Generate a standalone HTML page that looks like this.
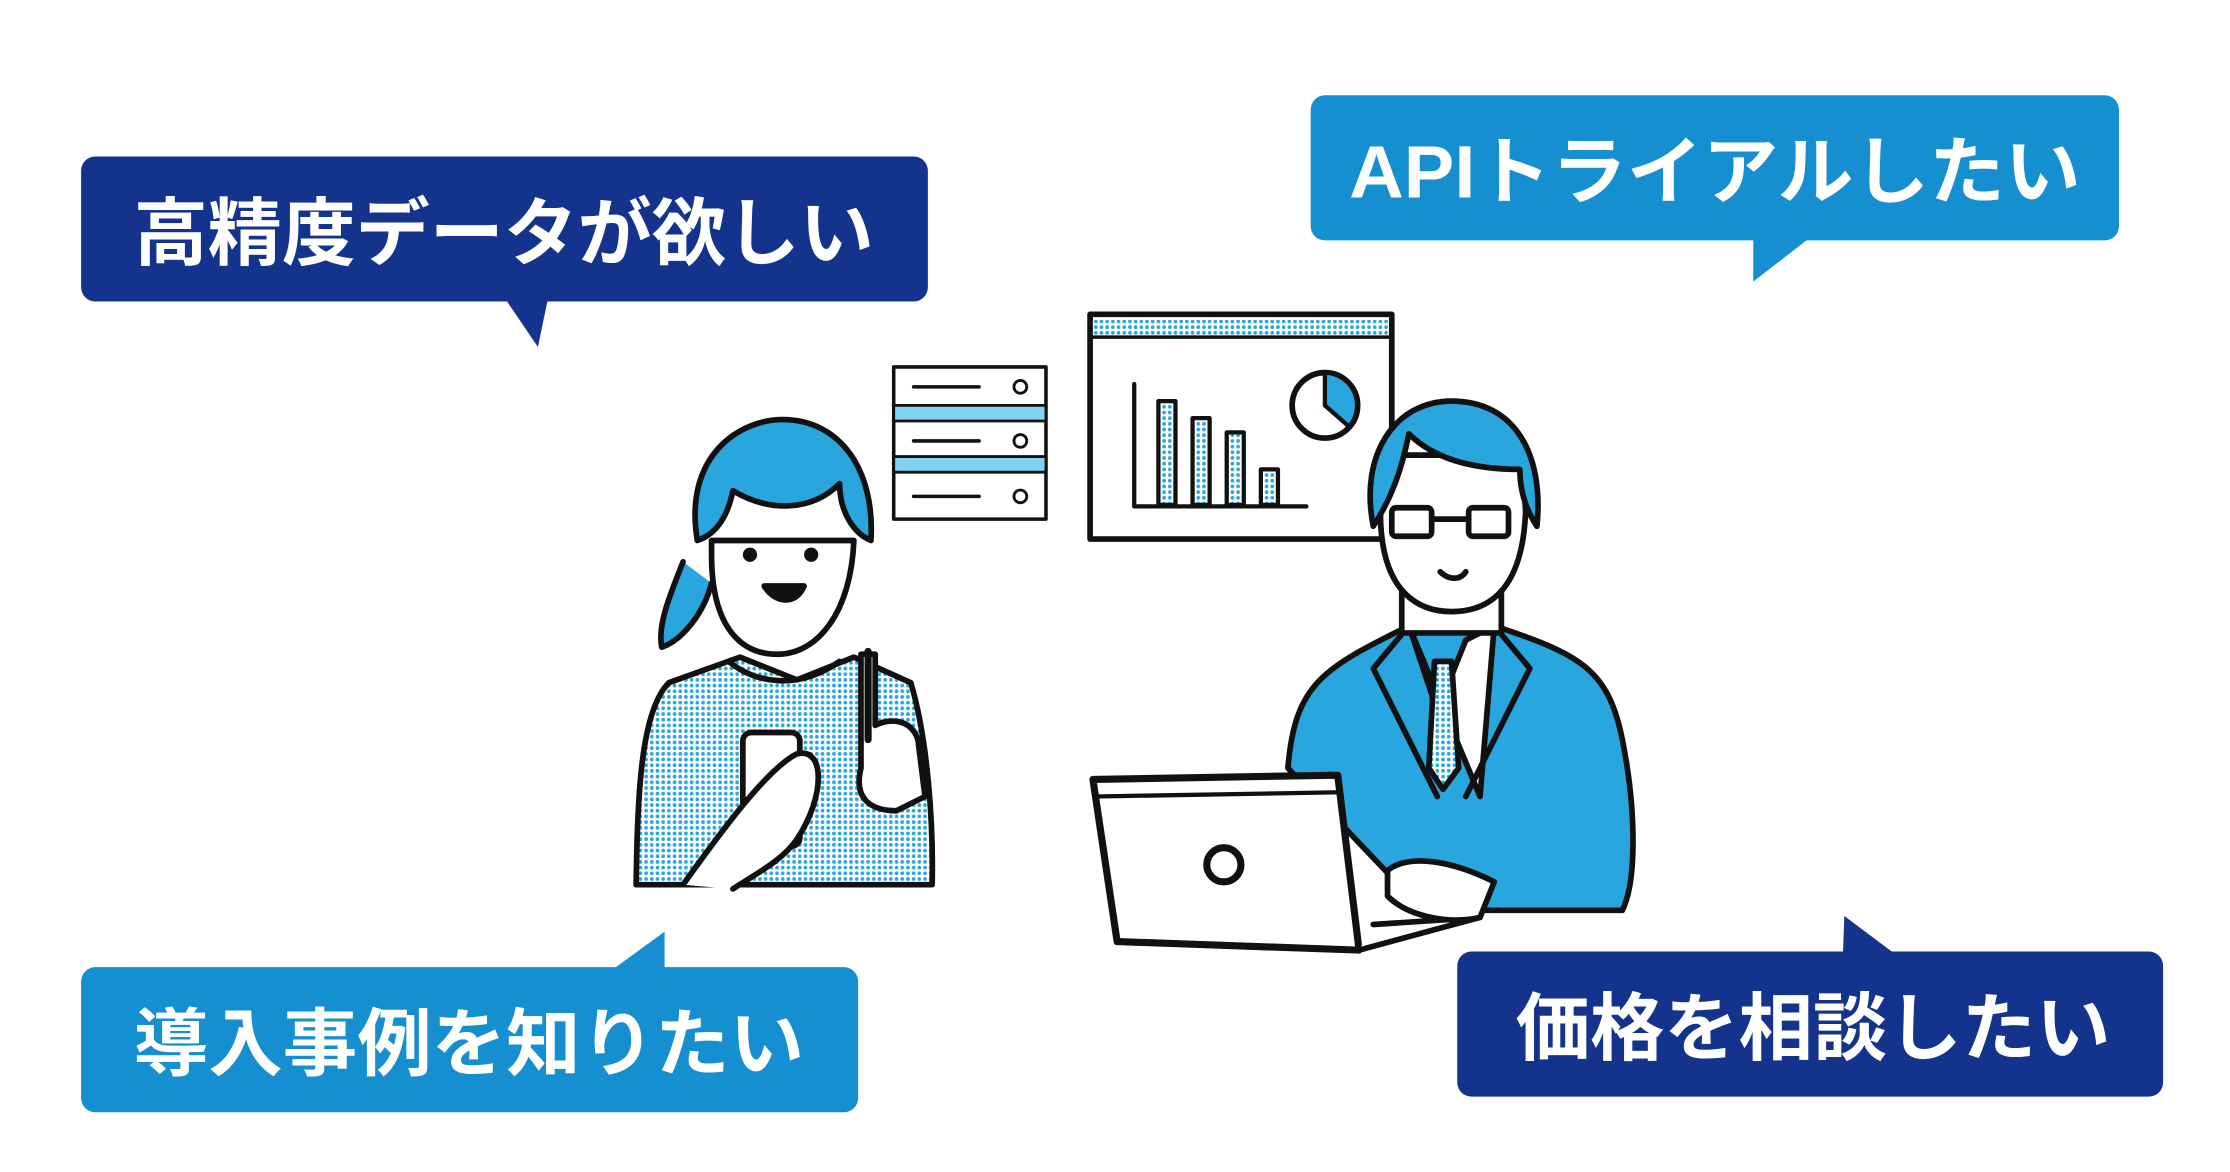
<!DOCTYPE html>
<html><head><meta charset="utf-8"><style>
html,body{margin:0;padding:0;background:#fff;width:2230px;height:1172px;overflow:hidden}
svg{display:block}
text{font-family:"Liberation Sans","Noto Sans CJK JP",sans-serif;font-weight:bold;fill:#fff}
</style></head><body>
<svg width="2230" height="1172" viewBox="0 0 1567 824" preserveAspectRatio="none" xmlns="http://www.w3.org/2000/svg">
<defs>
<pattern id="dots" width="4" height="4" patternUnits="userSpaceOnUse"><rect width="4" height="4" fill="#fff"/><circle cx="2" cy="2" r="1.3" fill="#2aa6df"/></pattern>
</defs>
<rect x="57" y="110" width="595" height="102" rx="10" fill="#14338c"/>
<polygon points="355,210 385,210 378,244" fill="#14338c"/>
<text x="94" y="182" font-size="52" textLength="520" lengthAdjust="spacingAndGlyphs">高精度データが欲しい</text>

<rect x="921" y="67" width="568" height="102" rx="10" fill="#168fd0"/>
<polygon points="1232,167 1272,167 1232,198" fill="#168fd0"/>
<text x="948" y="139" font-size="52" textLength="514" lengthAdjust="spacingAndGlyphs">APIトライアルしたい</text>

<rect x="57" y="680" width="546" height="102" rx="10" fill="#168fd0"/>
<polygon points="430,682 467,682 467,655" fill="#168fd0"/>
<text x="94" y="752" font-size="52" textLength="471" lengthAdjust="spacingAndGlyphs">導入事例を知りたい</text>

<rect x="1024" y="669" width="496" height="102" rx="10" fill="#14338c"/>
<polygon points="1295,671 1332,671 1296,644" fill="#14338c"/>
<text x="1065" y="741" font-size="52" textLength="418" lengthAdjust="spacingAndGlyphs">価格を相談したい</text>

<g stroke="#111" stroke-width="4" fill="none" stroke-linecap="round" stroke-linejoin="round">
<rect x="628" y="258" width="107" height="107" fill="#fff" stroke-width="2.5"/>
<rect x="629" y="285" width="105" height="11" fill="#7fd3f0" stroke="none"/>
<rect x="629" y="321" width="105" height="11" fill="#7fd3f0" stroke="none"/>
<line x1="628" y1="285" x2="735" y2="285" stroke-width="2"/><line x1="628" y1="296" x2="735" y2="296" stroke-width="2"/>
<line x1="628" y1="321" x2="735" y2="321" stroke-width="2"/><line x1="628" y1="332" x2="735" y2="332" stroke-width="2"/>
<line x1="642" y1="272" x2="688" y2="272" stroke-width="2.5"/><circle cx="717" cy="272" r="4.5" stroke-width="2"/>
<line x1="642" y1="310" x2="688" y2="310" stroke-width="2.5"/><circle cx="717" cy="310" r="4.5" stroke-width="2"/>
<line x1="642" y1="349" x2="688" y2="349" stroke-width="2.5"/><circle cx="717" cy="349" r="4.5" stroke-width="2"/>
<rect x="766" y="221" width="212" height="158" fill="#fff" stroke-width="4"/>
<rect x="768" y="225" width="208" height="11" fill="url(#dots)" stroke="none"/>
<line x1="766" y1="237" x2="978" y2="237" stroke-width="2.5"/>
<polyline points="797,270 797,356 918,356" stroke-width="3"/>
<rect x="814" y="282" width="12" height="73" fill="url(#dots)" stroke-width="3"/>
<rect x="838" y="294" width="12" height="61" fill="url(#dots)" stroke-width="3"/>
<rect x="862" y="304" width="12" height="51" fill="url(#dots)" stroke-width="3"/>
<rect x="886" y="330" width="12" height="25" fill="url(#dots)" stroke-width="3"/>
<circle cx="931" cy="285" r="23" fill="#fff" stroke-width="4"/>
<path d="M931,285 L931,262 A23,23 0 0 1 948,300 Z" fill="#2aa6df" stroke-width="3"/>
<path d="M447,622 C448,560 450,500 470,480 L520,462 L560,478 L600,462 L640,480 C652,520 656,580 655,622 Z" fill="url(#dots)"/>
<path d="M512,465 C530,480 560,486 590,465" />
<path d="M480,395 C470,420 462,440 465,455 C480,450 495,430 500,410" fill="#2aa6df"/>
<path d="M500,390 C500,440 520,460 546,460 C575,460 598,430 600,380 L500,380 Z" fill="#fff"/>
<path d="M490,380 C480,320 520,295 550,295 C590,295 615,330 612,380 C600,375 590,360 590,340 C570,360 540,360 515,345 C512,360 505,375 490,380 Z" fill="#2aa6df"/>
<circle cx="527" cy="390" r="3" fill="#111"/><circle cx="570" cy="390" r="3" fill="#111"/>
<path d="M537,412 C545,425 560,425 565,412 Z" fill="#111"/>
<rect x="522" y="515" width="40" height="80" rx="6" fill="#fff"/>
<path d="M480,622 C510,580 540,540 560,530 C580,525 580,560 560,590 C550,605 530,615 515,625" fill="#fff"/>
<path d="M605,460 L605,540 C600,560 610,570 630,570 L650,560 L645,520 C640,505 625,505 615,510 L615,460 Z" fill="#fff"/>
<line x1="610" y1="458" x2="610" y2="520" stroke-width="5"/>
<path d="M905,540 C910,480 930,470 990,440 L1050,440 C1110,460 1130,470 1140,520 C1150,570 1150,620 1140,640 L1000,640 Z" fill="#2aa6df"/>
<path d="M990,440 L1010,500 L1030,450 L1050,440 L1040,560 Z" fill="#fff"/>
<path d="M1008,465 L1020,465 L1025,540 L1014,555 L1004,540 Z" fill="url(#dots)"/>
<path d="M990,440 L965,470 L1010,560" /><path d="M1050,440 L1075,470 L1030,560"/>
<path d="M985,410 L985,445 L1055,445 L1055,405" fill="#fff"/>
<path d="M970,360 C970,420 1000,430 1020,430 C1050,430 1070,410 1072,360 L1070,320 L975,320 Z" fill="#fff"/>
<path d="M965,370 C955,320 980,282 1020,282 C1065,282 1085,320 1080,370 C1070,355 1068,340 1068,330 C1040,330 1010,325 990,305 C985,330 978,350 965,370 Z" fill="#2aa6df"/>
<rect x="978" y="357" width="28" height="20" rx="3" stroke-width="4"/><rect x="1032" y="357" width="28" height="20" rx="3" stroke-width="4"/>
<line x1="1006" y1="365" x2="1032" y2="365"/>
<path d="M1012,402 C1018,408 1026,408 1030,402"/>
<path d="M768,548 L940,545 L955,668 L785,662 Z" fill="#fff" stroke-width="5"/>
<line x1="770" y1="560" x2="942" y2="557" stroke-width="3"/>
<circle cx="860" cy="608" r="12" stroke-width="5"/>
<path d="M955,668 L1040,645 L965,650" fill="#fff"/>
<path d="M975,612 C990,600 1020,605 1050,620 L1040,645 C1020,650 990,645 975,630 Z" fill="#fff"/>
</g>
</svg>
</body></html>
